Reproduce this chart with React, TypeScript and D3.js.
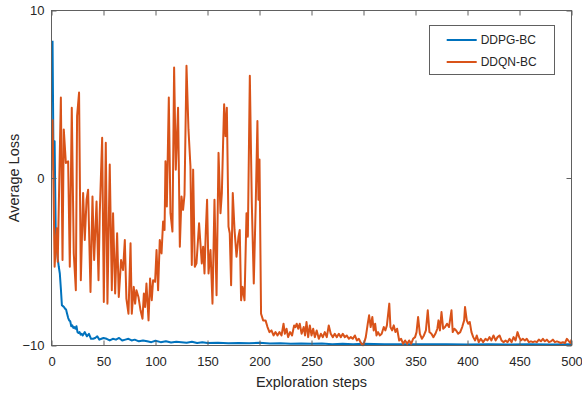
import React, { useEffect, useRef } from "react";
import * as d3 from "d3";

const xTicks = [0, 50, 100, 150, 200, 250, 300, 350, 400, 450, 500];
const yTicks = [-10, 0, 10];
const seriesNames = ["DDPG-BC", "DDQN-BC"];
const seriesColors = ["#0072BD", "#D95319"];

const ddpgX = [1,2,3,4,5,6,7,8,9,10,11,12,13,14,15,16,17,18,19,20,21,22,23,24,25,26,27,28,29,30,32,34,36,38,40,42,44,46,48,50,53,56,59,62,65,68,71,74,77,80,84,88,92,96,100,105,110,115,120,125,130,135,140,145,150,160,170,180,190,200,210,220,230,240,250,260,270,280,290,300,320,340,360,380,400,420,440,460,480,500];
const ddpgY = [8.2,0.5,2.2,-2.9,-4.0,-4.8,-5.3,-5.7,-6.6,-7.6,-7.65,-7.7,-7.8,-7.85,-8.1,-8.35,-8.5,-8.55,-8.85,-8.8,-8.95,-8.9,-9.0,-8.85,-9.2,-9.25,-9.2,-9.35,-9.3,-9.4,-9.2,-9.45,-9.3,-9.6,-9.6,-9.55,-9.45,-9.65,-9.6,-9.55,-9.6,-9.7,-9.6,-9.65,-9.55,-9.7,-9.65,-9.6,-9.7,-9.65,-9.75,-9.7,-9.75,-9.8,-9.72,-9.8,-9.75,-9.82,-9.78,-9.8,-9.83,-9.78,-9.85,-9.8,-9.85,-9.83,-9.87,-9.85,-9.87,-9.84,-9.88,-9.86,-9.9,-9.88,-9.9,-9.88,-9.92,-9.9,-9.92,-9.9,-9.93,-9.92,-9.93,-9.92,-9.94,-9.93,-9.94,-9.93,-9.94,-9.93];

const ddqnX = [1,3,5,6,9,10.6,11.8,13.8,16,17.6,19.5,21.4,23.4,24.6,26.5,28.2,30.4,32,33.7,35.2,37.5,39.4,41,43.3,45.2,46.4,48.7,50.3,52.2,53.8,56,58,59.2,61.2,63.1,64.7,66.9,68.8,70.5,72,74,76,77.2,79.1,80.4,81.7,83.6,85.6,87.5,88.8,90,91.3,93.3,94.8,96.4,97.7,99.6,101,102.5,104.1,105.8,107.3,108.7,109.6,110.9,112.8,114.4,116.3,117.9,119.5,121.7,123.4,125,126.5,127.9,129.8,131.7,133.6,134.9,136.2,137.8,139.4,141.9,144.5,145.8,147.1,148.4,149.6,151,152.9,154.8,156.7,158.7,160.6,162.5,163.8,165,166,167.3,168.6,170.2,171.4,172.7,174.3,176,177.9,179.8,181,182.3,183.7,185.6,187.5,188.8,190.7,192.6,194.5,196.4,198,199,200,201.5,203.5,205.8,207.7,209.6,211.5,213.5,215.4,217.3,219.2,221.2,223.1,224.4,226,227.5,229.4,231.3,233.3,234.5,235.8,237.2,238.7,240.5,242.5,243.8,245.2,246.8,248.4,250,251.6,253.2,255,257,259,260.9,262.8,264.7,266.6,268.5,270.5,272.4,274.3,276.3,278.2,280.1,282,283.9,285.9,287.8,289.7,291.7,293.6,295.5,297.5,299.4,300.8,302.2,304.1,305.4,306.9,308.5,309.8,311.2,312.5,314,315.7,317.5,319.5,321,322.5,324.8,325.9,327.5,329.1,330.7,332.3,334.3,336.2,338.1,340,342,343.9,345.8,347.7,349.6,351,352.5,354.2,356.2,358.1,360,361.8,363.4,365.3,367.2,369.1,371,372.1,373.5,375,376.6,378.4,380.3,382.2,384.6,385.8,387.4,389.1,391,393,394.9,396.8,397.6,399.3,400.6,402.2,403.8,405.5,407.3,408.9,410.8,412.8,415,417.3,419.2,421.2,423,425,427,428.9,430.8,432.7,434.7,436.6,438.5,440.4,442.4,444.3,446.2,448.1,449.7,451.3,453.2,455.2,457,459,461,462.9,464.8,466.7,468.6,470.6,472.5,474.4,476.3,478.3,480.2,482.1,484,486,487.9,489.8,491.7,493.7,495.6,497.6,499,500];
const ddqnY = [3.5,-5.3,-3.0,-5.0,4.8,-4.9,2.9,0.9,1.0,-5.3,4.2,-4.5,-6.7,3.7,5.1,-6.1,-0.9,-3.7,-1.3,-0.7,-6.8,-1.1,-4.9,-1.4,-6.1,-2.1,2.4,-7.4,2.1,-7.5,0.8,-6.7,-2.1,-6.9,-3.3,-7.1,-4.9,-5.5,-3.7,-7.2,-8.1,-3.9,-8.1,-6.5,-7.5,-6.7,-7.1,-7.9,-8.4,-6.9,-7.7,-6.3,-8.5,-6.0,-7.3,-6.1,-6.2,-4.3,-6.7,-3.7,-4.5,-2.6,-3.1,1.0,-1.7,4.8,-2.1,-3.2,6.6,0.5,4.2,-4.1,-1.1,-1.9,-1.0,6.7,2.9,0.7,-5.2,0.5,-5.3,-5.1,-2.7,-5.1,-4.1,-5.7,-3.1,-1.3,-5.7,-4.3,-7.5,-1.3,-7.0,1.5,-2.1,-0.9,2.1,4.4,2.5,4.2,-2.9,-3.3,-6.4,-0.9,-3.1,-4.7,-3.5,-3.1,-7.3,-6.5,-7.3,-2.1,-3.5,6.1,-1.5,-6.3,-1.5,3.4,-1.3,1.1,-8.1,-8.5,-8.5,-8.9,-9.2,-9.1,-9.4,-9.2,-9.4,-9.2,-9.4,-8.7,-9.3,-9.0,-9.5,-9.2,-9.4,-8.8,-8.9,-8.7,-9.0,-8.7,-9.3,-8.9,-9.4,-8.6,-9.5,-8.8,-9.4,-9.0,-9.5,-9.1,-9.6,-9.3,-9.5,-9.2,-9.5,-8.8,-9.3,-9.5,-9.3,-9.5,-9.3,-9.5,-9.3,-9.5,-9.4,-9.6,-9.5,-9.6,-9.4,-9.7,-9.6,-9.85,-10.0,-9.8,-9.5,-8.7,-8.2,-8.9,-8.3,-9.1,-8.7,-9.4,-9.2,-9.4,-9.3,-8.9,-9.1,-8.8,-7.5,-8.9,-9.1,-8.8,-9.2,-9.0,-9.7,-9.6,-9.9,-9.7,-9.9,-9.7,-9.9,-9.6,-9.5,-9.2,-8.3,-9.3,-9.6,-9.4,-9.1,-7.9,-9.2,-9.3,-9.5,-9.3,-9.0,-8.5,-9.1,-8.0,-9.0,-8.9,-8.7,-8.9,-7.9,-9.2,-9.0,-9.1,-9.3,-9.2,-8.9,-8.5,-7.7,-8.5,-8.7,-8.6,-9.2,-9.5,-9.7,-9.4,-9.8,-9.6,-9.8,-9.6,-9.7,-9.5,-9.7,-9.4,-9.7,-9.5,-9.4,-9.7,-9.8,-9.7,-9.8,-9.6,-9.8,-9.5,-9.7,-9.2,-9.5,-9.7,-9.6,-9.7,-9.6,-9.8,-9.75,-9.8,-9.75,-9.8,-9.65,-9.75,-9.6,-9.75,-9.65,-9.8,-9.75,-9.65,-9.8,-9.75,-9.8,-9.85,-9.8,-9.85,-9.6,-9.75,-9.85,-9.65];

const W = 582;
const H = 394;
const L = 51.5, R = 571.5, T = 10.5, B = 345.5;
const FONT = "'Liberation Sans', Arial, Helvetica, sans-serif";
const AX = "#606060";

export default function App() {
  const ref = useRef<SVGSVGElement>(null);

  useEffect(() => {
    const svg = d3.select(ref.current);
    svg.selectAll("*").remove();

    const x = d3.scaleLinear().domain([0, 500]).range([L, R]);
    const y = d3.scaleLinear().domain([-10, 10]).range([B, T]);

    svg.append("rect").attr("x", 0).attr("y", 0).attr("width", W).attr("height", H).attr("fill", "#fff");

    svg.append("defs").append("clipPath").attr("id", "clip")
      .append("rect").attr("x", L).attr("y", T - 1).attr("width", R - L).attr("height", B - T + 2);

    const line = d3.line<[number, number]>().x((d) => x(d[0])).y((d) => y(d[1]));
    const series = [
      ddpgX.map((v, i) => [v, ddpgY[i]] as [number, number]),
      ddqnX.map((v, i) => [v, ddqnY[i]] as [number, number]),
    ];
    const g = svg.append("g").attr("clip-path", "url(#clip)");
    series.forEach((s, i) => {
      g.append("path").attr("d", line(s)).attr("fill", "none")
        .attr("stroke", seriesColors[i]).attr("stroke-width", 2)
        .attr("stroke-linejoin", "round");
    });

    const styleAxis = (sel: any) => {
      sel.select(".domain").remove();
      sel.selectAll("line").attr("stroke", AX);
      sel.selectAll("text").attr("fill", "#262626").attr("font-size", 13).attr("font-family", FONT);
    };

    svg.append("g").attr("transform", `translate(0,${B})`)
      .call(d3.axisBottom(x).tickValues(xTicks).tickSize(-5).tickPadding(11))
      .call(styleAxis);
    svg.append("g").attr("transform", `translate(0,${T})`)
      .call(d3.axisTop(x).tickValues(xTicks).tickSize(-5).tickFormat(() => ""))
      .call(styleAxis);
    svg.append("g").attr("transform", `translate(${L},0)`)
      .call(d3.axisLeft(y).tickValues(yTicks).tickSize(-5).tickPadding(7))
      .call(styleAxis);
    svg.append("g").attr("transform", `translate(${R},0)`)
      .call(d3.axisRight(y).tickValues(yTicks).tickSize(-5).tickFormat(() => ""))
      .call(styleAxis);

    svg.append("rect").attr("x", L).attr("y", T).attr("width", R - L).attr("height", B - T)
      .attr("fill", "none").attr("stroke", AX).attr("stroke-width", 1).attr("shape-rendering", "crispEdges");

    svg.append("text").attr("x", (L + R) / 2).attr("y", 387).attr("text-anchor", "middle")
      .attr("font-size", 14.5).attr("font-family", FONT).attr("fill", "#262626").text("Exploration steps");
    svg.append("text").attr("transform", `translate(18.5,${(T + B) / 2}) rotate(-90)`).attr("text-anchor", "middle")
      .attr("font-size", 14.5).attr("font-family", FONT).attr("fill", "#262626").text("Average Loss");

    const lg = svg.append("g");
    lg.append("rect").attr("x", 429.5).attr("y", 25.5).attr("width", 125).attr("height", 49)
      .attr("fill", "#fff").attr("stroke", AX).attr("stroke-width", 1).attr("shape-rendering", "crispEdges");
    seriesNames.forEach((n, i) => {
      const yy = 40 + i * 22;
      lg.append("line").attr("x1", 446.7).attr("x2", 476.7).attr("y1", yy).attr("y2", yy)
        .attr("stroke", seriesColors[i]).attr("stroke-width", 2);
      lg.append("text").attr("x", 480.7).attr("y", yy + 4.3).attr("font-size", 12)
        .attr("font-family", FONT).attr("fill", "#262626").text(n);
    });
  }, []);

  return (
    <svg ref={ref} width={W} height={H} style={{ position: "absolute", left: 0, top: 0 }} />
  );
}
